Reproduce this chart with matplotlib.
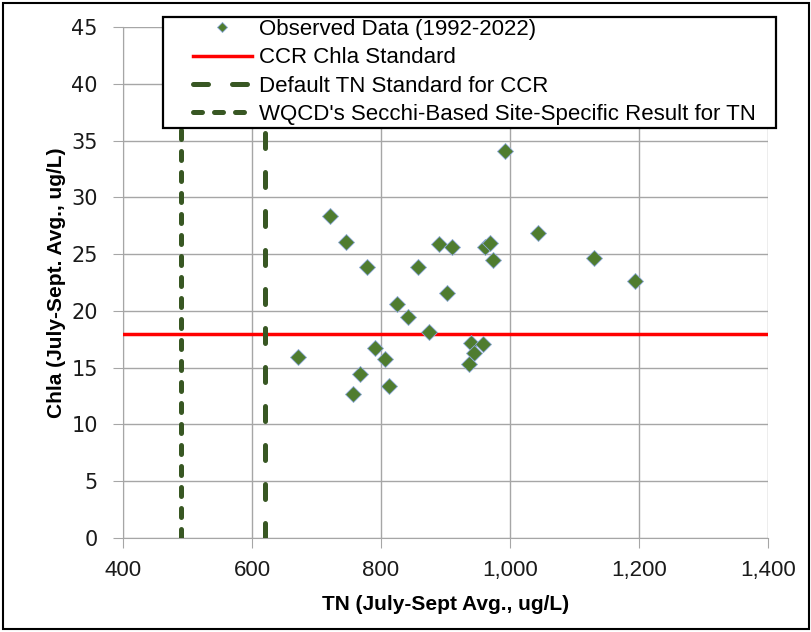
import matplotlib
matplotlib.use("Agg")
import matplotlib.pyplot as plt
from matplotlib.patches import Rectangle

tn = [721, 746, 779, 671, 790, 806, 767, 756, 812, 825, 842, 874, 857, 890,
      910, 903, 993, 961, 969, 974, 1043, 1130, 1194, 940, 958, 944, 937]
chla = [28.4, 26.1, 23.9, 15.9, 16.7, 15.8, 14.4, 12.7, 13.4, 20.6, 19.5, 18.1, 23.9, 25.9,
        25.6, 21.6, 34.1, 25.6, 26.0, 24.5, 26.9, 24.7, 22.6, 17.2, 17.1, 16.3, 15.3]

chla_std = 18
tn_default = 620
tn_secchi = 490

xticks = [400, 600, 800, 1000, 1200, 1400]
xticklabels = ["400", "600", "800", "1,000", "1,200", "1,400"]
yticks = [0, 5, 10, 15, 20, 25, 30, 35, 40, 45]

plt.rcParams['font.family'] = ['Liberation Sans', 'DejaVu Sans']

W, H = 812, 632
fig = plt.figure(figsize=(W / 100, H / 100), dpi=100)
ax = fig.add_axes([123 / W, 1 - 538 / H, 645 / W, 511 / H])

grn = "#385723"
ax.axhline(chla_std, color="red", lw=2.5, zorder=3, label="CCR Chla Standard")
ax.axvline(tn_default, color=grn, lw=3.6, dashes=(3, 4.8), dash_capstyle="round",
           zorder=3, label="Default TN Standard for CCR")
ax.axvline(tn_secchi, color=grn, lw=3.6, dashes=(1.8, 2.4), dash_capstyle="round",
           zorder=3, label="WQCD's Secchi-Based Site-Specific Result for TN")
ax.plot(tn, chla, ls="none", marker="D", ms=8.5, color="#4f7c2f",
        mec="#8eaadb", mew=0.6, zorder=4, label="Observed Data (1992-2022)")

ax.set_xlim(400, 1400)
ax.set_ylim(0, 45)
ax.set_xticks(xticks, xticklabels, fontsize=16)
ax.set_yticks(yticks, [str(v) for v in yticks], fontsize=15, family="DejaVu Sans")
ax.grid(True, color="#a6a6a6", lw=1)
ax.set_axisbelow(True)
for s in ["top", "right"]:
    ax.spines[s].set_visible(False)
for s in ["left", "bottom"]:
    ax.spines[s].set_color("#a6a6a6")
ax.tick_params(colors="#a6a6a6", labelcolor="#1a1a1a", length=7)
ax.tick_params(axis="x", pad=9)
ax.tick_params(axis="y", pad=11)

ax.set_xlabel("TN (July-Sept Avg., ug/L)", fontsize=15, fontweight="bold", labelpad=10)
ax.set_ylabel("Chla (July-Sept. Avg., ug/L)", fontsize=15, fontweight="bold", labelpad=4)

# legend box (Excel style, wider than the plot)
fig.patches.append(Rectangle((163 / W, 1 - 128 / H), 613 / W, 111 / H, transform=fig.transFigure,
                             facecolor="white", edgecolor="black", lw=1.6, zorder=5))
h, l = ax.get_legend_handles_labels()
order = [3, 0, 1, 2]
leg = fig.legend([h[i] for i in order], [l[i] for i in order],
                 loc="upper left", bbox_to_anchor=(193 / W, 1 - 19 / H), fontsize=16,
                 frameon=False, borderpad=0, labelspacing=0.33, handlelength=2.65,
                 handletextpad=0.3, borderaxespad=0, markerscale=0.6)
leg.set_zorder(6)

fig.patches.append(Rectangle((0.004, 0.004), 0.992, 0.992, transform=fig.transFigure,
                             fill=False, edgecolor="black", lw=1.5, zorder=7))

fig.savefig("out.png", dpi=100)
